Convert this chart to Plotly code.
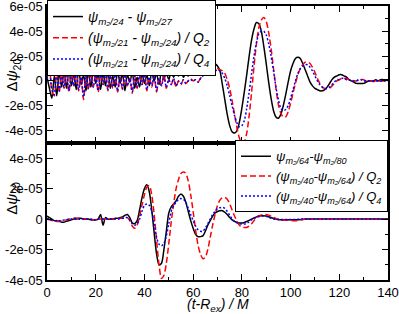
import numpy as np
import plotly.graph_objects as go
from plotly.subplots import make_subplots

# time axis (t - R_ex)/M, one sample per unit
t = list(range(0, 141))

# ---- top panel values (units of 1e-05) ----
top_black = [
    0.3, -0.6, -1.4, 0.4, -1.2, 0.7, -0.5, 0.8, -0.6, 0.9,
    -0.4, 0.6, -0.7, 0.9, -0.3, 0.5, -0.8, 0.8, -0.5, 0.9,
    -0.2, 0.6, -0.7, 0.7, -0.4, 0.8, -0.6, 0.4, -0.5, 0.8,
    -0.2, 0.6, -0.8, 0.5, -0.1, 0.7, -0.6, 0.3, -0.5, 0.6,
    -0.2, 0.5, -0.4, 0.7, 0.0, 0.6, -0.3, 0.8, 0.2, 0.6,
    0.1, 0.8, 0.3, 0.7, 0.4, 0.9, 0.3, 0.6, 0.4, 0.8,
    0.5, 0.9, 0.8, 1.1, 1.3, 1.5, 1.7, 1.8, 1.7, 1.4,
    1.2, 0.8, -0.3, -1.5, -2.7, -3.6, -4.1, -4.2, -4.0, -3.3,
    -2.2, -0.9, 0.5, 2.0, 3.3, 4.2, 4.7, 4.6, 4.0, 2.8,
    1.4, -0.1, -1.4, -2.4, -2.9, -3.0, -2.7, -2.0, -1.1, -0.1,
    0.8, 1.4, 1.8, 1.9, 1.8, 1.4, 0.9, 0.4, -0.1, -0.4,
    -0.6, -0.7, -0.8, -0.8, -0.7, -0.5, -0.2, 0.1, 0.3, 0.4,
    0.5, 0.5, 0.4, 0.3, 0.1, 0.0, -0.1, -0.2, -0.2, -0.2,
    -0.2, -0.1, 0.0, 0.0, 0.0, 0.1, 0.0, 0.1, 0.1, 0.1,
    0.1,
]
top_red = [
    0.2, 1.1, -0.8, -1.2, 0.9, -0.9, 0.5, -0.6, 0.8, -0.9,
    0.6, -0.4, 0.9, -0.8, 0.3, -1.5, 0.4, -0.7, 0.7, -0.5,
    0.6, -0.9, 0.5, -0.3, 0.7, -0.8, 0.4, -0.6, 0.6, -0.9,
    0.3, -0.7, 0.5, -0.4, 0.2, -1.0, 0.4, -0.6, 0.5, -0.3,
    0.6, -0.8, 0.3, -0.5, 0.4, -0.9, 0.2, -0.4, 0.5, -0.6,
    0.1, -0.3, 0.2, -0.5, 0.0, -0.3, 0.1, -0.2, 0.0, 0.2,
    0.0, 0.1, -0.1, 0.2, 0.5, 0.9, 1.0, 1.0, 0.9, 0.9,
    1.0, 0.9, 0.8, 0.6, 0.1, -0.6, -1.6, -2.7, -3.8, -4.6,
    -5.0, -4.9, -4.2, -2.8, -0.9, 1.2, 3.0, 4.3, 4.9, 5.1,
    4.8, 3.9, 2.6, 1.0, -0.6, -1.9, -2.6, -2.9, -2.9, -2.5,
    -1.8, -1.0, -0.2, 0.5, 1.0, 1.3, 1.5, 1.5, 1.4, 1.1,
    0.7, 0.2, -0.2, -0.5, -0.6, -0.65, -0.6, -0.4, -0.2, 0.0,
    0.1, 0.2, 0.2, 0.2, 0.1, 0.1, 0.0, 0.0, 0.1, 0.1,
    0.1, 0.0, 0.0, 0.0, -0.05, 0.0, 0.0, 0.0, 0.0, 0.0,
    0.0,
]
top_blue = [
    0.2, 1.0, -0.7, -1.1, 0.8, -0.8, 0.5, -0.5, 0.7, -0.8,
    0.5, -0.4, 0.8, -0.7, 0.3, -1.3, 0.4, -0.6, 0.6, -0.5,
    0.5, -0.8, 0.5, -0.3, 0.6, -0.7, 0.4, -0.5, 0.5, -0.8,
    0.3, -0.6, 0.5, -0.4, 0.2, -0.9, 0.4, -0.5, 0.4, -0.3,
    0.5, -0.7, 0.3, -0.4, 0.4, -0.8, 0.2, -0.4, 0.4, -0.5,
    0.1, -0.3, 0.2, -0.4, 0.0, -0.2, 0.1, -0.2, 0.0, 0.1,
    0.0, 0.1, -0.1, 0.2, 0.4, 0.7, 0.8, 0.9, 0.9, 0.8,
    0.9, 0.8, 0.6, 0.2, -0.4, -1.2, -2.0, -2.8, -3.4, -3.7,
    -3.6, -3.2, -2.2, -0.9, 0.6, 2.0, 3.1, 3.8, 4.0, 4.0,
    3.7, 3.0, 2.0, 0.8, -0.5, -1.5, -2.2, -2.4, -2.3, -2.0,
    -1.4, -0.7, 0.0, 0.6, 1.0, 1.2, 1.3, 1.3, 1.1, 0.8,
    0.4, 0.0, -0.3, -0.5, -0.6, -0.6, -0.5, -0.3, -0.1, 0.1,
    0.1, 0.2, 0.2, 0.1, 0.1, 0.0, 0.0, 0.0, 0.1, 0.1,
    0.0, 0.0, 0.0, 0.0, 0.0, 0.0, 0.0, 0.0, 0.0, 0.0,
    0.0,
]

# ---- bottom panel values (units of 1e-05) ----
bot_black = [
    0.2, 0.1, 0.0, -0.1, -0.1, -0.15, -0.2, -0.2, -0.15, -0.1,
    -0.05, 0.0, 0.0, 0.05, 0.05, 0.0, 0.0, 0.0, -0.05, -0.05,
    -0.05, 0.0, 0.3, -0.4, 0.1, 0.0, 0.0, 0.0, 0.05, 0.05,
    0.1, 0.15, 0.25, 0.3, 0.1, -0.25, -0.3, -0.1, 0.6, 1.4,
    2.0, 2.25, 1.8, 0.6, -0.9, -2.3, -3.0, -2.9, -2.0, -0.8,
    0.4, 0.8, 1.0, 1.2, 1.5, 1.65, 1.5, 1.1, 0.5, -0.1,
    -0.6, -1.0, -1.15, -1.15, -1.1, -0.8, -0.4, -0.1, 0.2, 0.4,
    0.5, 0.55, 0.55, 0.45, 0.3, 0.1, -0.05, -0.15, -0.22, -0.25,
    -0.26, -0.22, -0.15, -0.08, 0.0, 0.08, 0.15, 0.2, 0.22, 0.22,
    0.2, 0.15, 0.1, 0.05, 0.0, -0.03, -0.05, -0.05, -0.05, -0.05,
    -0.05, -0.05, -0.05, -0.04, -0.03, -0.02, 0.0, 0.0, 0.0, 0.0,
    0.0, 0.0, 0.0, 0.0, 0.0, 0.0, 0.0, 0.0, 0.0, 0.0,
    0.0, 0.0, 0.0, 0.0, 0.0, 0.0, 0.0, 0.0, 0.0, 0.0,
    0.0, 0.0, 0.0, 0.0, 0.0, 0.0, 0.0, 0.0, 0.0, 0.0,
    0.0,
]
bot_red = [
    0.0, -0.05, -0.1, -0.1, -0.15, -0.15, -0.1, -0.1, -0.05, 0.0,
    0.0, 0.05, 0.05, 0.05, 0.0, 0.0, 0.0, 0.0, 0.0, -0.05,
    -0.05, 0.0, 0.0, 0.0, 0.0, 0.0, 0.0, 0.0, 0.0, 0.0,
    0.05, 0.05, 0.1, 0.1, -0.1, -0.45, -0.6, -0.4, 0.2, 0.9,
    1.6, 2.1, 2.2, 1.6, 0.3, -1.4, -3.0, -3.9, -3.7, -2.9,
    -1.6, -0.2, 1.0, 2.0, 2.6, 3.0, 3.1, 3.0, 2.5, 1.6,
    0.5, -0.7, -1.7, -2.3, -2.6, -2.5, -2.0, -1.2, -0.4, 0.3,
    0.9, 1.25, 1.4, 1.42, 1.3, 1.0, 0.6, 0.2, -0.15, -0.4,
    -0.52, -0.55, -0.55, -0.45, -0.3, -0.1, 0.08, 0.2, 0.28, 0.3,
    0.3, 0.26, 0.2, 0.12, 0.05, -0.02, -0.05, -0.06, -0.07, -0.08,
    -0.08, -0.1, -0.1, -0.08, -0.05, -0.03, 0.0, 0.0, 0.0, 0.0,
    0.0, 0.0, 0.0, 0.0, 0.0, 0.0, 0.0, 0.0, 0.0, 0.0,
    0.0, 0.0, 0.0, 0.0, 0.0, 0.0, 0.0, 0.0, 0.0, 0.0,
    0.0, 0.0, 0.0, 0.0, 0.0, 0.0, 0.0, 0.0, 0.0, 0.0,
    0.0,
]
bot_blue = [
    0.05, 0.0, -0.05, -0.1, -0.1, -0.1, -0.1, -0.05, -0.05, 0.0,
    0.0, 0.05, 0.05, 0.0, 0.0, 0.0, 0.0, 0.0, 0.0, -0.05,
    -0.05, 0.0, 0.0, 0.0, 0.0, 0.0, 0.0, 0.0, 0.0, 0.0,
    0.05, 0.05, 0.1, 0.1, -0.05, -0.3, -0.4, -0.3, 0.0, 0.5,
    0.9, 1.0, 0.9, 0.5, -0.3, -1.2, -1.65, -1.75, -1.6, -1.1,
    -0.3, 0.5, 0.9, 1.1, 1.3, 1.35, 1.3, 1.1, 0.7, 0.3,
    -0.1, -0.45, -0.7, -0.8, -0.8, -0.6, -0.3, 0.0, 0.3, 0.5,
    0.7, 0.75, 0.77, 0.7, 0.5, 0.25, 0.0, -0.15, -0.25, -0.3,
    -0.33, -0.33, -0.28, -0.18, -0.05, 0.05, 0.12, 0.17, 0.2, 0.2,
    0.18, 0.12, 0.06, 0.0, -0.02, -0.03, -0.03, -0.03, -0.03, -0.03,
    -0.03, -0.03, -0.02, -0.01, 0.0, 0.0, 0.0, 0.0, 0.0, 0.0,
    0.0, 0.0, 0.0, 0.0, 0.0, 0.0, 0.0, 0.0, 0.0, 0.0,
    0.0, 0.0, 0.0, 0.0, 0.0, 0.0, 0.0, 0.0, 0.0, 0.0,
    0.0, 0.0, 0.0, 0.0, 0.0, 0.0, 0.0, 0.0, 0.0, 0.0,
    0.0,
]
SCALE = 1e-05

top_names = [
    "<i>ψ<sub>m₂/24</sub> - ψ<sub>m₂/27</sub></i>",
    "<i>(ψ<sub>m₂/21</sub> - ψ<sub>m₂/24</sub>) / Q<sub>2</sub></i>",
    "<i>(ψ<sub>m₂/21</sub> - ψ<sub>m₂/24</sub>) / Q<sub>4</sub></i>",
]
bot_names = [
    "<i>ψ<sub>m₂/64</sub>-ψ<sub>m₂/80</sub></i>",
    "<i>(ψ<sub>m₂/40</sub>-ψ<sub>m₂/64</sub>) / Q<sub>2</sub></i>",
    "<i>(ψ<sub>m₂/40</sub>-ψ<sub>m₂/64</sub>) / Q<sub>4</sub></i>",
]
top_tickvals = [-4e-05, -2e-05, 0, 2e-05, 4e-05, 6e-05]
top_ticktext = ["-4e-05", "-2e-05", "0", "2e-05", "4e-05", "6e-05"]
bot_tickvals = [-4e-05, -2e-05, 0, 2e-05, 4e-05]
bot_ticktext = ["-4e-05", "-2e-05", "0", "2e-05", "4e-05"]
x_tickvals = [0, 20, 40, 60, 80, 100, 120, 140]

styles = [
    dict(color="black", width=1.5, dash="solid"),
    dict(color="#ff0000", width=1.5, dash="6px,3px"),
    dict(color="#0000ff", width=1.5, dash="2px,2px"),
]

fig = make_subplots(rows=2, cols=1, shared_xaxes=True, vertical_spacing=0)

for i, (vals, name, st) in enumerate(zip([top_black, top_red, top_blue], top_names, styles)):
    fig.add_trace(go.Scatter(x=t, y=np.array(vals) * SCALE, mode="lines", name=name,
                             line=dict(st, shape="spline", smoothing=0.8),
                             legend="legend", legendgroup=f"top{i}"), row=1, col=1)
for i, (vals, name, st) in enumerate(zip([bot_black, bot_red, bot_blue], bot_names, styles)):
    fig.add_trace(go.Scatter(x=t, y=np.array(vals) * SCALE, mode="lines", name=name,
                             line=dict(st, shape="spline", smoothing=0.8),
                             legend="legend2", legendgroup=f"bot{i}"), row=2, col=1)

font = dict(family="Liberation Sans, Arial, sans-serif", size=13, color="black")
axis_common = dict(showline=True, linecolor="black", linewidth=1.5, mirror="ticks",
                   ticks="inside", ticklen=6, tickwidth=1, tickcolor="black",
                   showgrid=False, zeroline=False, tickfont=font, automargin=False,
                   ticklabeloverflow="allow")

fig.update_xaxes(range=[0, 140], tickvals=x_tickvals,
                 minor=dict(dtick=10, ticks="inside", ticklen=3, tickcolor="black"),
                 **axis_common)
fig.update_xaxes(showticklabels=False, row=1, col=1)
fig.update_yaxes(range=[-5e-05, 6.03e-05], tickvals=top_tickvals, ticktext=top_ticktext,
                 minor=dict(tick0=0, dtick=1e-05, ticks="inside", ticklen=3, tickcolor="black"),
                 row=1, col=1, **axis_common)
fig.update_yaxes(range=[-4e-05, 5e-05], tickvals=bot_tickvals, ticktext=bot_ticktext,
                 minor=dict(tick0=0, dtick=1e-05, ticks="inside", ticklen=3, tickcolor="black"),
                 row=2, col=1, **axis_common)

leg_common = dict(bgcolor="white", bordercolor="black", borderwidth=1,
                  itemwidth=30, tracegroupgap=0)
fig.update_layout(
    width=399, height=314,
    margin=dict(l=47, r=11, t=6, b=34, autoexpand=False),
    paper_bgcolor="white", plot_bgcolor="white",
    font=font,
    showlegend=True,
    legend=dict(leg_common, font=dict(font, size=14), x=0, y=1.022,
                xanchor="left", yanchor="top"),
    legend2=dict(leg_common, font=dict(font, size=13), x=1, y=0.51,
                 xanchor="right", yanchor="top"),
    annotations=[
        dict(text="Δ<i>ψ</i><sub>20</sub>", textangle=-90, xref="paper", yref="paper",
             x=-0.1, y=0.75, xanchor="center", yanchor="middle", showarrow=False,
             font=dict(font, size=15)),
        dict(text="Δ<i>ψ</i><sub>20</sub>", textangle=-90, xref="paper", yref="paper",
             x=-0.1, y=0.3, xanchor="center", yanchor="middle", showarrow=False,
             font=dict(font, size=15)),
        dict(text="<i>(t-R<sub>ex</sub>) / M</i>", xref="paper", yref="paper",
             x=0.5, y=-0.09, xanchor="center", yanchor="middle", showarrow=False,
             font=dict(font, size=14)),
    ],
)

fig.write_html("out.html", config={"displayModeBar": False},
               post_script="document.body.style.margin='0';document.body.style.overflow='hidden';")
